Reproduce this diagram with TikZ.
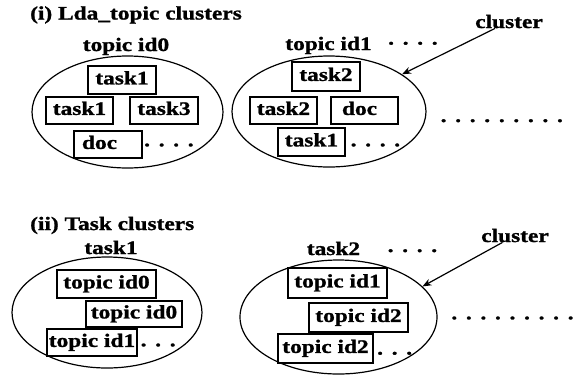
\documentclass[tikz,border=0pt]{standalone}
\usepackage{fontspec}
\setmainfont{Liberation Serif}[FakeStretch=1.23,BoldFeatures={FakeBold=1.2}]
\usetikzlibrary{shapes.geometric,arrows.meta}
\newcommand\dk{\kern8.7pt}
\begin{document}
\begin{tikzpicture}[x=1pt,y=-1pt,
  every node/.style={font=\fontsize{19}{22}\selectfont\bfseries},
  lbl/.style={inner sep=0pt,anchor=base},
  clu/.style={draw,ellipse,line width=1.2pt,inner sep=0pt},
  bx/.style={draw,line width=1.3pt,inner sep=0pt,text height=13pt,text depth=4.2pt},
  dotrow/.style={inner sep=0pt,anchor=base west},
  arr/.style={line width=1.2pt,-{Stealth[length=9pt,width=7pt]}}]
\useasboundingbox (0,0) rectangle (575,376);
% ---------- (i) ----------
\node[lbl,anchor=base west] (t1) at (30,19.5) {(i) Lda\_topic clusters};
\node[lbl] (h0) at (126,51) {topic id0};
\node[lbl] (h1) at (328.5,50) {topic id1};
\node[dotrow] (d1) at (388,44.6) {.\dk.\dk.\dk.};
\node[lbl] (c1) at (509,28) {cluster};
\node[clu,minimum width=191pt,minimum height=112pt] (E1) at (127.5,112) {};
\node[clu,minimum width=194pt,minimum height=111pt] (E2) at (329,111.5) {};
\node[bx,minimum width=68pt,minimum height=28pt] (a1) at (122,80) {task1};
\node[bx,minimum width=67pt,minimum height=27pt] (a2) at (79.5,110.5) {task1};
\node[bx,minimum width=68pt,minimum height=27pt] (a3) at (164,110.5) {task3};
\node[bx,minimum height=27pt,inner xsep=8pt,text width=52pt,align=left] (a4) at (108,144.5) {doc};
\node[dotrow] (d2) at (144,146.3) {.\dk.\dk.\dk.};
\node[bx,minimum width=68pt,minimum height=29pt] (b1) at (326,76.5) {task2};
\node[bx,minimum width=67pt,minimum height=27pt] (b2) at (283.5,110.5) {task2};
\node[bx,minimum height=27pt,inner xsep=11pt,text width=45pt,align=left] (b3) at (364.5,110.5) {doc};
\node[bx,minimum width=67pt,minimum height=28pt] (b4) at (311.5,142) {task1};
\node[dotrow] (d3) at (350.5,146.3) {.\dk.\dk.\dk.};
\node[dotrow] (d4) at (440.5,122) {.\dk.\dk.\dk.\dk.\dk.\dk.\dk.\dk.};
\draw[arr] (c1) -- (E2.27);
% ---------- (ii) ----------
\node[lbl,anchor=base west] (t2) at (30,230) {(ii) Task clusters};
\node[lbl] (h2) at (111,254) {task1};
\node[lbl] (h3) at (333.5,255) {task2};
\node[dotrow] (d5) at (387.5,252) {.\dk.\dk.\dk.};
\node[lbl] (c2) at (515,242) {cluster};
\node[clu,minimum width=190pt,minimum height=111pt] (E3) at (107,312.5) {};
\node[clu,minimum width=197pt,minimum height=114pt] (E4) at (338.5,317) {};
\node[bx,minimum width=99pt,minimum height=28pt] (p1) at (106.5,284) {topic id0};
\node[bx,minimum width=96pt,minimum height=26pt] (p2) at (134,314) {topic id0};
\node[bx,minimum width=90pt,minimum height=27pt] (p3) at (92,342.5) {topic id1};
\node[dotrow] (d6) at (140.5,346.3) {.\dk.\dk.};
\node[bx,minimum width=99pt,minimum height=30pt] (q1) at (337.5,283) {topic id1};
\node[bx,minimum width=99pt,minimum height=29pt] (q2) at (358.5,317.5) {topic id2};
\node[bx,minimum width=95pt,minimum height=29pt] (q3) at (325.5,348.5) {topic id2};
\node[dotrow] (d7) at (377,354.6) {.\dk.\dk.};
\node[dotrow] (d8) at (451.2,319.3) {.\dk.\dk.\dk.\dk.\dk.\dk.\dk.\dk.};
\draw[arr] (c2) -- (E4.20);
\end{tikzpicture}
\end{document}
